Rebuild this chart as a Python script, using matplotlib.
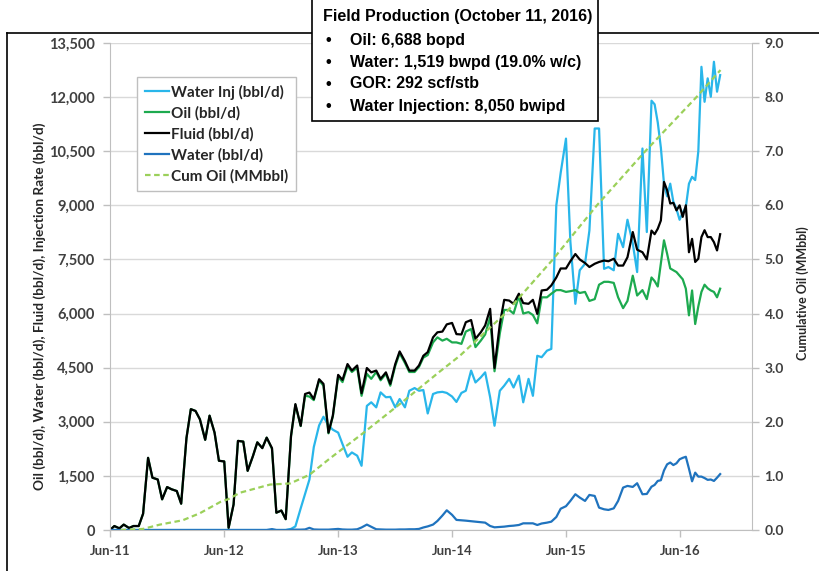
import numpy as np
import pandas as pd
import matplotlib
matplotlib.use("Agg")
import matplotlib.pyplot as plt
import matplotlib.dates as mdates
from matplotlib.ticker import FuncFormatter, FixedLocator
from matplotlib.lines import Line2D
from matplotlib.patches import Rectangle

# rates read semi-monthly up to Feb-16, then every 10 days to Oct-16
dates = pd.date_range("2011-06-01", "2016-02-15", freq="SMS").append(
    pd.date_range("2016-03-01", periods=23, freq="10D"))

fluid = [
    0, 110, 45, 150, 55, 110, 110, 450, 2000, 1450,
    1400, 850, 1190, 1130, 1080, 730, 2550, 3350, 3300, 3070,
    2500, 3170, 2700, 1920, 1900, 60, 710, 2470, 2450, 1640,
    2050, 2430, 2270, 2560, 2270, 480, 540, 300, 2610, 3490,
    2890, 3770, 3810, 3630, 4180, 4050, 2700, 3170, 4300, 4160,
    4600, 4420, 4560, 3790, 4490, 4370, 4420, 4190, 4370, 4050,
    4600, 4950, 4680, 4420, 4420, 4560, 4830, 4930, 5340, 5480,
    5500, 5700, 5740, 5430, 5420, 5760, 5820, 5300, 5480, 5670,
    6130, 4490, 5710, 6380, 6360, 6270, 6550, 6290, 6270, 6380,
    5990, 6640, 6660, 6780, 7000, 7250, 7250, 7450, 7650, 7500,
    7400, 7290, 7380, 7430, 7470, 7450, 7520, 7330, 7330, 7560,
    8260, 7770, 7700, 7500,
    8300, 8200, 8350, 8580, 9650, 9420, 9050, 9070, 8860, 9000,
    8680, 9000, 7700, 8070, 7430, 7520, 8120, 8310, 8120, 8120,
    7980, 7750, 8200]

oil = [
    0, 110, 45, 150, 55, 110, 110, 450, 2000, 1450,
    1400, 850, 1190, 1130, 1080, 730, 2550, 3350, 3300, 3070,
    2500, 3170, 2700, 1920, 1900, 60, 710, 2470, 2450, 1640,
    2050, 2430, 2270, 2560, 2250, 480, 540, 300, 2600, 3470,
    2880, 3720, 3700, 3600, 4150, 4000, 2680, 3150, 4250, 4100,
    4550, 4380, 4500, 3720, 4330, 4190, 4380, 4150, 4330, 4000,
    4550, 4900, 4630, 4380, 4380, 4520, 4780, 4850, 5200, 5340,
    5250, 5300, 5200, 5200, 5160, 5500, 5570, 5070, 5250, 5420,
    5900, 4400, 5450, 6100, 6100, 6000, 6490, 6000, 6040, 5960,
    5730, 6450, 6450, 6550, 6650, 6650, 6600, 6620, 6650, 6570,
    6600, 6350, 6400, 6800, 6880, 6880, 6850, 6450, 6150, 6350,
    7050, 6500, 6650, 6400,
    7000, 6900, 6750, 7400, 8030, 7660, 7250, 7200, 7150, 7050,
    6950, 6690, 5950, 6640, 5710, 6200, 6600, 6800, 6700, 6640,
    6600, 6450, 6690]

water_inj = [
    0, 0, 0, 0, 0, 0, 0, 0, 0, 0,
    0, 0, 0, 0, 0, 0, 0, 0, 0, 0,
    0, 0, 0, 0, 0, 0, 0, 0, 0, 0,
    0, 0, 0, 0, 0, 0, 0, 0, 30, 100,
    600, 1000, 1400, 2300, 2900, 3140, 2900, 2780, 2700, 2380,
    2030, 2150, 2060, 1780, 3440, 3540, 3400, 3815, 3680, 3690,
    3400, 3630, 3400, 3860, 3935, 3860, 3880, 3230, 3770, 3815,
    3830, 3800, 3700, 3550, 3800, 3860, 4420, 4090, 4230, 4370,
    3680, 2890, 3860, 4000, 4190, 3950, 4280, 3540, 4190, 3720,
    4830, 4790, 4970, 5020, 9000, 9900, 10850, 8000, 6270, 7200,
    7380, 8300, 11130, 11130, 7240, 7290, 7200, 8210, 7840, 8600,
    7940, 7150, 10575, 8260,
    11900, 11800, 11300, 10600, 9600, 9250, 9600, 9100, 8900, 8600,
    8800, 8950, 9600, 9790, 9700, 10500, 12840, 11870, 12520, 12010,
    12980, 12150, 12610]

water = [
    0, 0, 0, 0, 0, 0, 0, 0, 0, 0,
    0, 0, 0, 0, 0, 0, 0, 0, 0, 0,
    0, 0, 0, 0, 0, 0, 0, 0, 0, 0,
    0, 0, 0, 0, 25, 0, 0, 0, 10, 10,
    10, 15, 60, 15, 10, 10, 10, 20, 30, 15,
    10, 10, 20, 70, 150, 90, 20, 15, 10, 10,
    10, 15, 15, 20, 20, 30, 70, 100, 150, 250,
    400, 546, 420, 280, 270, 259, 245, 231, 215, 204,
    111, 74, 85, 93, 111, 120, 139, 185, 185, 185,
    139, 180, 204, 231, 360, 590, 660, 806, 991, 900,
    806, 972, 944, 620, 574, 556, 600, 806, 1176, 1222,
    1194, 1296, 991, 1000,
    1200, 1250, 1360, 1380, 1650, 1820, 1870, 1800, 1850, 1960,
    2000, 2030, 1700, 1350, 1590, 1480, 1480, 1440, 1390, 1400,
    1360, 1450, 1550]

cum_dates = pd.to_datetime([
    "2011-07-05", "2011-09-15", "2011-11-08", "2012-01-20", "2012-03-15",
    "2012-05-20", "2012-06-14", "2012-07-22", "2012-10-26", "2012-12-29",
    "2013-03-01", "2013-05-05", "2013-08-20", "2013-12-27", "2014-04-23",
    "2014-06-26", "2014-11-18", "2015-04-20", "2015-09-08", "2016-02-10",
    "2016-07-23", "2016-10-08"])
cum_oil = [0.0, 0.02, 0.10, 0.18, 0.31, 0.52, 0.57, 0.69, 0.84, 0.86,
           1.02, 1.32, 1.79, 2.38, 2.93, 3.22, 4.0, 5.0, 6.0, 7.0, 8.0, 8.5]

labels = ["Water Inj (bbl/d)", "Oil (bbl/d)", "Fluid (bbl/d)", "Water (bbl/d)", "Cum Oil (MMbbl)"]
colors = ["#29B6EA", "#1DAA4F", "#000000", "#1F73BE", "#9BD05A"]

plt.rcParams["font.family"] = ["Lato", "DejaVu Sans"]
plt.rcParams["font.weight"] = "bold"
tick_col = "#404040"
axis_col = "#BFBFBF"

W, H = 820, 571
fig = plt.figure(figsize=(W / 100, H / 100), dpi=100)
ax = fig.add_axes([110 / W, 1 - 530 / H, 642 / W, 487 / H])
ax2 = ax.twinx()

lw = 1.6
ax.plot(dates, water_inj, color=colors[0], lw=lw)
ax.plot(dates, oil, color=colors[1], lw=lw)
ax.plot(dates, fluid, color=colors[2], lw=lw)
ax.plot(dates, water, color=colors[3], lw=lw)
ax2.plot(cum_dates, cum_oil, color=colors[4], lw=lw, dashes=(2.5, 1.6))

ax.set_xlim(pd.Timestamp("2011-06-01"), pd.Timestamp("2017-01-17"))
ax.set_ylim(0, 13500)
ax2.set_ylim(0, 9)

ax.yaxis.set_major_locator(FixedLocator(np.arange(0, 13501, 1500)))
ax.yaxis.set_major_formatter(FuncFormatter(lambda v, p: f"{v:,.0f}"))
ax2.yaxis.set_major_locator(FixedLocator(np.arange(0, 9.01, 1.0)))
ax2.yaxis.set_major_formatter(FuncFormatter(lambda v, p: f"{v:.1f}"))
ax.xaxis.set_major_locator(mdates.MonthLocator(bymonth=6))
ax.xaxis.set_major_formatter(mdates.DateFormatter("%b-%y"))

ax.yaxis.grid(True, color="#D9D9D9", lw=1)
ax.set_axisbelow(True)

for s in ["top", "right"]:
    ax.spines[s].set_visible(False)
for s in ["top", "left", "bottom"]:
    ax2.spines[s].set_visible(False)
ax.spines["left"].set_color(axis_col)
ax.spines["bottom"].set_color(axis_col)
ax2.spines["right"].set_color(axis_col)

ax.tick_params(axis="y", length=5, width=1, color=axis_col, labelsize=10.5, labelcolor=tick_col, pad=6)
ax.tick_params(axis="x", length=5, width=1, color=axis_col, labelsize=9.5, labelcolor=tick_col, pad=6)
ax2.tick_params(axis="y", length=5, width=1, color=axis_col, labelsize=10, labelcolor=tick_col, pad=4)

fig.text(40 / W, 1 - 306 / H, "Oil (bbl/d), Water (bbl/d), Fluid (bbl/d), Injection Rate (bbl/d)",
         rotation=90, ha="center", va="center", fontsize=9.8, color="#262626")
fig.text(803 / W, 1 - 293 / H, "Cumulative Oil (MMbbl)",
         rotation=90, ha="center", va="center", fontsize=9, color="#262626")

handles = [Line2D([], [], color=c, lw=lw) for c in colors[:4]]
handles.append(Line2D([], [], color=colors[4], lw=lw, dashes=(2.5, 1.6)))
leg = ax2.legend(handles, labels, loc="upper left", bbox_to_anchor=(27 / 642, (530 - 77) / 487),
                 borderaxespad=0, fancybox=False, framealpha=1, edgecolor="#BFBFBF",
                 fontsize=11, handlelength=1.6, handletextpad=0.1, labelspacing=0.42,
                 borderpad=0.5)
leg.get_frame().set_linewidth(1)
for t in leg.get_texts():
    t.set_color("#262626")

# outer frame lines
fig.add_artist(Line2D([7 / W, 7 / W], [0, 1 - 33 / H], color="black", lw=1.2, transform=fig.transFigure))
fig.add_artist(Line2D([7 / W, 1], [1 - 33 / H, 1 - 33 / H], color="black", lw=1.2, transform=fig.transFigure))

# info box
box = Rectangle((312 / W, 1 - 121 / H), (598 - 312) / W, 126 / H, transform=fig.transFigure,
                facecolor="white", edgecolor="black", lw=1.2, zorder=10, clip_on=False)
fig.add_artist(box)
box_font = ["Liberation Sans", "DejaVu Sans"]
fig.text(323 / W, 1 - 17 / H, "Field Production (October 11, 2016)", ha="left", va="center",
         fontsize=11.5, fontweight="bold", family=box_font, zorder=11)
items = ["Oil: 6,688 bopd", "Water: 1,519 bwpd (19.0% w/c)", "GOR: 292 scf/stb",
         "Water Injection: 8,050 bwipd"]
for k, txt in enumerate(items):
    y = 1 - (40 + 22 * k) / H
    fig.text(326 / W, y, "\u2022", ha="left", va="center", fontsize=11.5, fontweight="bold",
             family=box_font, zorder=11)
    fig.text(350 / W, y, txt, ha="left", va="center", fontsize=11.5, fontweight="bold",
             family=box_font, zorder=11)

fig.savefig("out.png", dpi=100)
